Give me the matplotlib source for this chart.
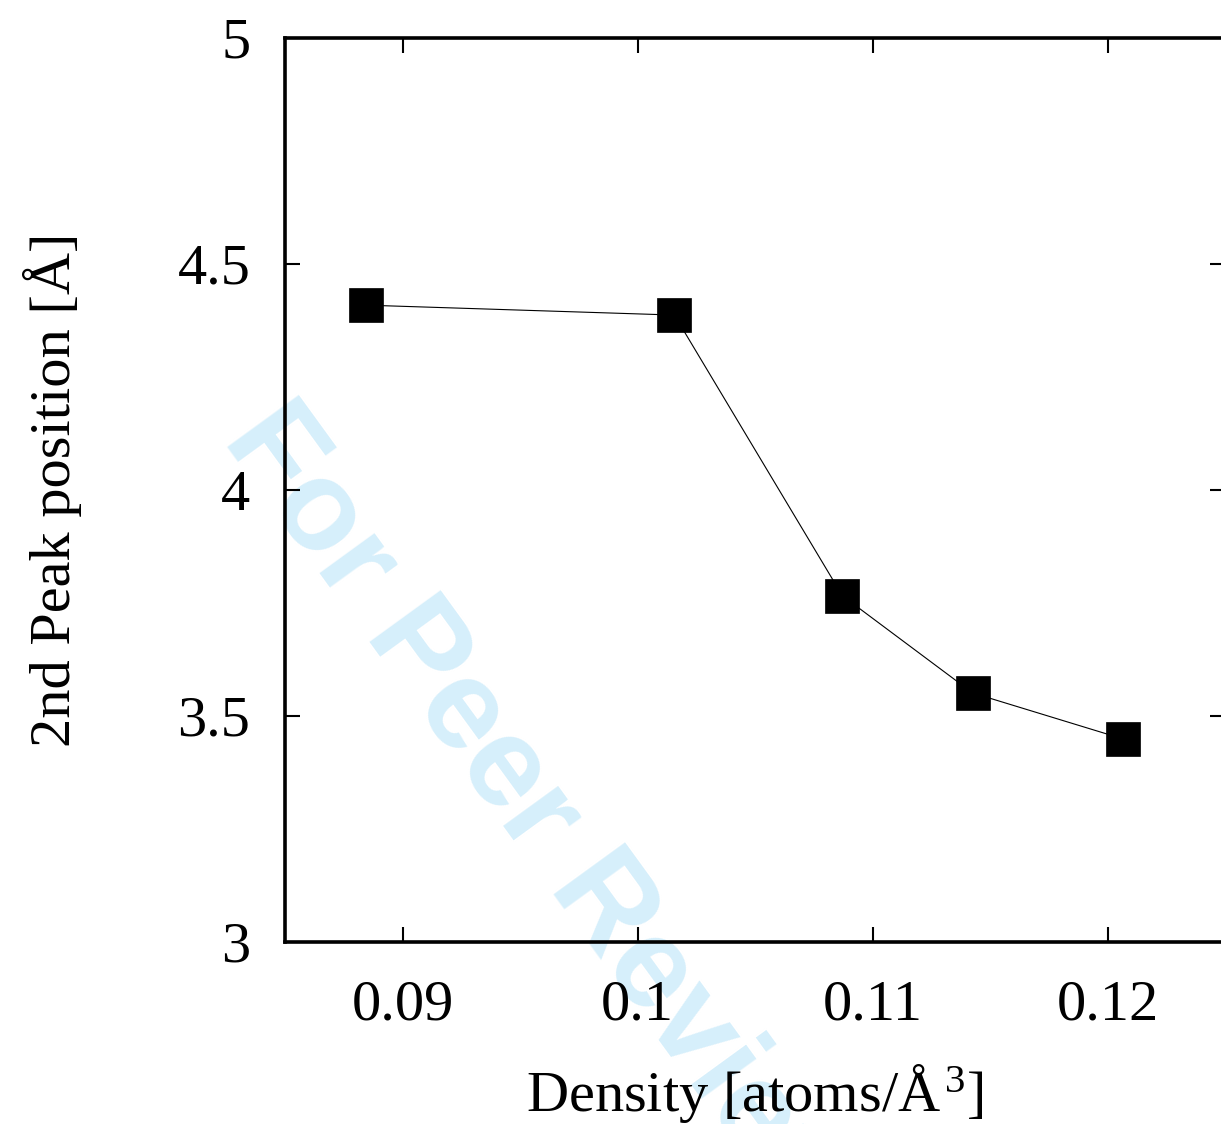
import matplotlib
matplotlib.use("Agg")
import matplotlib.pyplot as plt

density = [0.08843, 0.10157, 0.10872, 0.11426, 0.12068]
peak_pos = [4.409, 4.387, 3.766, 3.551, 3.449]
xticks = [0.09, 0.10, 0.11, 0.12]
xtick_labels = ["0.09", "0.1", "0.11", "0.12"]
yticks = [3.0, 3.5, 4.0, 4.5, 5.0]
ytick_labels = ["3", "3.5", "4", "4.5", "5"]

plt.rcParams['font.family'] = ['Liberation Serif', 'DejaVu Serif']
plt.rcParams['mathtext.fontset'] = 'custom'
plt.rcParams['mathtext.rm'] = 'Liberation Serif'
plt.rcParams['mathtext.it'] = 'Liberation Serif:italic'

W, H = 1221, 1124
fig = plt.figure(figsize=(W / 100, H / 100), dpi=100)
ax = fig.add_axes([285 / W, (H - 942) / H, 940 / W, 904 / H])

ax.plot(density, peak_pos, color='black', lw=0.8, marker='s', markersize=24,
        markerfacecolor='black', markeredgecolor='black', markeredgewidth=0.5, zorder=3)

ax.set_xlim(0.085, 0.125)
ax.set_ylim(3.0, 5.0)
ax.set_xticks(xticks)
ax.set_xticklabels(xtick_labels)
ax.set_yticks(yticks)
ax.set_yticklabels(ytick_labels)

for s in ax.spines.values():
    s.set_linewidth(2.6)

ax.tick_params(axis='both', which='both', direction='in', top=True, right=True,
               length=11, width=1.5, labelsize=42)
ax.tick_params(axis='x', pad=27)
ax.tick_params(axis='y', pad=25)

ax.set_xlabel("Density [atoms/Å$^{\\,3}$]", fontsize=42)
ax.set_ylabel("2nd Peak position [Å]", fontsize=42)
ax.xaxis.set_label_coords(0.5, -(1062 - 942) / 904)
ax.yaxis.set_label_coords(-(285 - 82) / 940, 0.5)

# watermark
ax.text(221.7 / W, 1 - 439.7 / H, "For Peer Review", transform=fig.transFigure,
        rotation=-54, rotation_mode='anchor', ha='left', va='baseline',
        fontsize=92, fontweight='bold', family='Liberation Sans',
        color='#d6effb', zorder=0.5, clip_on=False)

fig.savefig("out.png", dpi=100)
